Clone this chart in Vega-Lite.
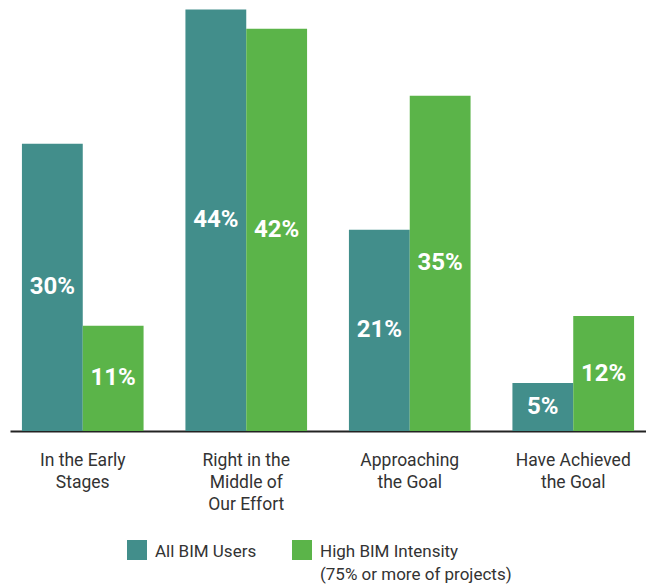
{
  "$schema": "https://vega.github.io/schema/vega-lite/v6.json",
  "autosize": "none",
  "width": 636,
  "height": 431,
  "padding": {"left": 10, "top": 0, "right": 0, "bottom": 154},
  "background": "white",
  "config": {
    "view": {"stroke": null},
    "font": "Roboto"
  },
  "data": {
    "values": [
      {"category": "In the Early Stages", "series": "All BIM Users", "value": 30},
      {"category": "In the Early Stages", "series": "High BIM Intensity", "value": 11},
      {"category": "Right in the Middle of Our Effort", "series": "All BIM Users", "value": 44},
      {"category": "Right in the Middle of Our Effort", "series": "High BIM Intensity", "value": 42},
      {"category": "Approaching the Goal", "series": "All BIM Users", "value": 21},
      {"category": "Approaching the Goal", "series": "High BIM Intensity", "value": 35},
      {"category": "Have Achieved the Goal", "series": "All BIM Users", "value": 5},
      {"category": "Have Achieved the Goal", "series": "High BIM Intensity", "value": 12}
    ]
  },
  "encoding": {
    "x": {
      "field": "category",
      "type": "nominal",
      "sort": null,
      "scale": {"paddingInner": 0.256, "paddingOuter": 0.073},
      "axis": {
        "title": null,
        "ticks": false,
        "domainColor": "#222222",
        "domainWidth": 2,
        "labelAngle": 0,
        "labelFontSize": 17.5,
        "labelColor": "#333333",
        "labelBaseline": "top",
        "labelPadding": 20,
        "labelLineHeight": 22,
        "labelExpr": "datum.label == 'In the Early Stages' ? ['In the Early', 'Stages'] : datum.label == 'Right in the Middle of Our Effort' ? ['Right in the', 'Middle of', 'Our Effort'] : datum.label == 'Approaching the Goal' ? ['Approaching', 'the Goal'] : ['Have Achieved', 'the Goal']"
      }
    },
    "xOffset": {"field": "series", "type": "nominal", "sort": null}
  },
  "layer": [
    {
      "mark": {"type": "bar"},
      "encoding": {
        "y": {
          "field": "value",
          "type": "quantitative",
          "scale": {"domain": [0, 45], "nice": false},
          "axis": null
        },
        "color": {
          "field": "series",
          "type": "nominal",
          "sort": null,
          "scale": {"domain": ["All BIM Users", "High BIM Intensity"], "range": ["#428E8B", "#5BB449"]},
          "legend": {
            "title": null,
            "orient": "none",
            "legendX": 117,
            "legendY": 540,
            "direction": "horizontal",
            "columns": 2,
            "padding": 0,
            "columnPadding": 35,
            "symbolType": "square",
            "symbolSize": 400,
            "symbolStrokeWidth": 0,
            "labelFontSize": 17,
            "labelColor": "#333333",
            "labelOffset": 8,
            "labelLimit": 300,
            "labelBaseline": "alphabetic",
            "labelExpr": "datum.label == 'High BIM Intensity' ? ['High BIM Intensity', '(75% or more of projects)'] : [datum.label, '']",
            "encoding": {"labels": {"dy": {"value": 7}, "lineHeight": {"value": 23}}}
          }
        }
      }
    },
    {
      "transform": [
        {"calculate": "datum.value / 2", "as": "mid"},
        {"calculate": "datum.value + '%'", "as": "label"}
      ],
      "mark": {"type": "text", "color": "white", "fontSize": 24, "fontWeight": "bold", "baseline": "middle"},
      "encoding": {
        "y": {"field": "mid", "type": "quantitative", "scale": {"domain": [0, 45], "nice": false}},
        "text": {"field": "label", "type": "nominal"},
        "detail": {"field": "series"}
      }
    }
  ]
}
